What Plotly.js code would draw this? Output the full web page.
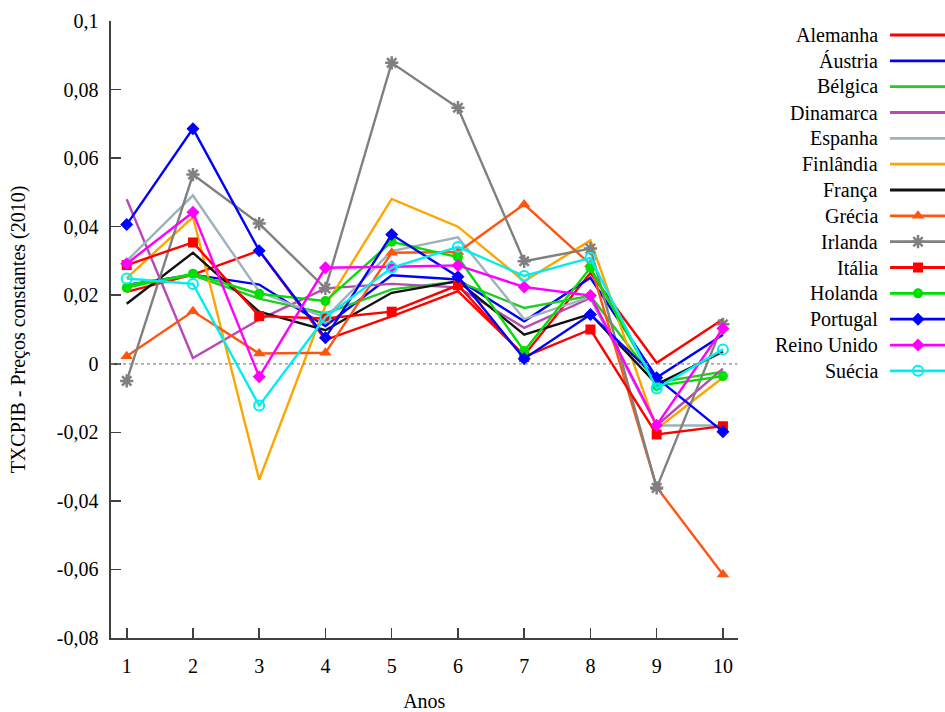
<!DOCTYPE html>
<html>
<head>
<meta charset="utf-8">
<script src="https://cdn.plot.ly/plotly-3.0.1.min.js"></script>
<style>html,body{margin:0;padding:0;background:#fff;}#chart{width:945px;height:712px;}</style>
</head>
<body>
<div id="chart"></div>
<script>
// ---- data ----
const anos = [1, 2, 3, 4, 5, 6, 7, 8, 9, 10];
const paises = ["Alemanha", "Áustria", "Bélgica", "Dinamarca", "Espanha", "Finlândia", "França",
  "Grécia", "Irlanda", "Itália", "Holanda", "Portugal", "Reino Unido", "Suécia"];
const alemanha   = [0.021, 0.026, 0.033, 0.007, 0.0138, 0.0212, 0.0025, 0.0265, 0.0003, 0.013];
const austria    = [0.023, 0.026, 0.0231, 0.011, 0.0258, 0.0246, 0.0124, 0.0251, -0.004, 0.0085];
const belgica    = [0.023, 0.0258, 0.019, 0.0147, 0.0217, 0.024, 0.0163, 0.0198, -0.0055, -0.0023];
const dinamarca  = [0.048, 0.0017, 0.0129, 0.022, 0.0233, 0.0223, 0.0105, 0.0192, -0.018, -0.0014];
const espanha    = [0.030, 0.0491, 0.021, 0.0135, 0.0329, 0.0369, 0.013, 0.0195, -0.018, -0.018];
const finlandia  = [0.025, 0.0428, -0.0338, 0.017, 0.0481, 0.040, 0.0241, 0.036, -0.019, -0.004];
const franca     = [0.0175, 0.0324, 0.0152, 0.0098, 0.0207, 0.0241, 0.0085, 0.0145, -0.006, 0.0035];
const grecia     = [0.0022, 0.0153, 0.003, 0.0032, 0.0324, 0.0326, 0.0465, 0.029, -0.036, -0.0615];
const irlanda    = [-0.005, 0.0552, 0.0409, 0.022, 0.0878, 0.0747, 0.0299, 0.0336, -0.0362, 0.0115];
const italia     = [0.0288, 0.0354, 0.0139, 0.0132, 0.0152, 0.0229, 0.002, 0.010, -0.0206, -0.0182];
const holanda    = [0.0222, 0.0263, 0.0204, 0.0183, 0.0356, 0.0311, 0.0037, 0.028, -0.0065, -0.0036];
const portugal   = [0.0406, 0.0686, 0.033, 0.0076, 0.0377, 0.0254, 0.0015, 0.0144, -0.0041, -0.0198];
const reinoUnido = [0.0292, 0.0442, -0.0038, 0.028, 0.0283, 0.0287, 0.0224, 0.0199, -0.0179, 0.0103];
const suecia     = [0.0249, 0.0233, -0.0122, 0.0136, 0.028, 0.0341, 0.0256, 0.0309, -0.0072, 0.0042];
const yTickVals  = [0.1, 0.08, 0.06, 0.04, 0.02, 0, -0.02, -0.04, -0.06, -0.08];
const yTickText  = ["0,1", "0,08", "0,06", "0,04", "0,02", "0", "-0,02", "-0,04", "-0,06", "-0,08"];
const xTitle = "Anos";
const yTitle = "TXCPIB - Preços constantes (2010)";

const series = [alemanha, austria, belgica, dinamarca, espanha, finlandia, franca,
  grecia, irlanda, italia, holanda, portugal, reinoUnido, suecia];

// ---- styles ----
const styles = [
  {color: "#ff0000"},
  {color: "#0000ff"},
  {color: "#22cc22"},
  {color: "#b848b8"},
  {color: "#9fb1ba"},
  {color: "#ffa500"},
  {color: "#111111"},
  {color: "#ff5511", symbol: "triangle-up", size: 11},
  {color: "#808080", symbol: "asterisk-open", size: 11, lw: 2.5},
  {color: "#ff0000", symbol: "square", size: 10},
  {color: "#00e000", symbol: "circle", size: 10},
  {color: "#0000ff", symbol: "diamond", size: 10},
  {color: "#ff00ff", symbol: "diamond", size: 10},
  {color: "#00eeee", symbol: "circle-open", size: 10, lw: 2}
];

const FONT = "Liberation Serif, Times New Roman, serif";
const LW = 2.4;
const traces = [];
series.forEach((vals, i) => {
  const s = styles[i];
  const t = {
    x: anos, y: vals, type: "scatter", name: paises[i],
    mode: s.symbol ? "lines+markers" : "lines",
    line: {color: s.color, width: LW},
    xaxis: "x", yaxis: "y", showlegend: false, hoverinfo: "skip"
  };
  if (s.symbol) t.marker = {symbol: s.symbol, size: s.size, color: s.color,
    line: {color: s.color, width: s.lw || 0}};
  traces.push(t);
});

// custom legend (text left, sample right)
const annotations = [];
const legLineX = [890, 960];
const legMarkX = 918;
const legTextX = 880;
paises.forEach((p, i) => {
  const s = styles[i];
  traces.push({x: legLineX, y: [i, i], type: "scatter", mode: "lines",
    line: {color: s.color, width: 2.8}, xaxis: "x2", yaxis: "y2", showlegend: false, hoverinfo: "skip"});
  if (s.symbol) traces.push({x: [legMarkX], y: [i], type: "scatter", mode: "markers",
    marker: {symbol: s.symbol, size: s.size, color: s.color, line: {color: s.color, width: s.lw || 0}},
    xaxis: "x2", yaxis: "y2", showlegend: false, hoverinfo: "skip"});
  annotations.push({x: legTextX, y: i, xref: "x2", yref: "y2", text: p, showarrow: false,
    xanchor: "right", yanchor: "middle", font: {family: FONT, size: 20, color: "#000"}});
});

const axisCol = "#404040";
const layout = {
  width: 945, height: 712,
  margin: {l: 111, r: 0, t: 21, b: 74},
  paper_bgcolor: "#ffffff", plot_bgcolor: "#ffffff",
  font: {family: FONT, size: 20, color: "#000"},
  showlegend: false,
  xaxis: {
    domain: [0, 0.7512], range: [0.763, 10.22],
    tickvals: anos, ticktext: anos.map(String),
    showgrid: false, zeroline: false, showline: true, linecolor: axisCol, linewidth: 1.6,
    ticks: "inside", ticklen: 10, tickwidth: 1.6, tickcolor: axisCol,
    ticklabelstandoff: 9,
    tickfont: {family: FONT, size: 20, color: "#000"},
    title: {text: xTitle, font: {family: FONT, size: 20, color: "#000"}, standoff: 26}
  },
  yaxis: {
    range: [-0.08, 0.1],
    tickvals: yTickVals, ticktext: yTickText,
    showgrid: false, zeroline: false, showline: true, linecolor: axisCol, linewidth: 1.6,
    ticks: "inside", ticklen: 10, tickwidth: 1.6, tickcolor: axisCol,
    ticklabelstandoff: 7,
    tickfont: {family: FONT, size: 20, color: "#000"},
    title: {text: yTitle, font: {family: FONT, size: 20, color: "#000"}, standoff: 26}
  },
  xaxis2: {domain: [0.76, 1], range: [744.8, 945], visible: false, anchor: "y2", fixedrange: true},
  yaxis2: {domain: [0, 1], range: [23.34, -0.542], visible: false, anchor: "x2", fixedrange: true},
  shapes: [{type: "line", xref: "x domain", yref: "y", x0: 0, x1: 1, y0: 0, y1: 0,
    line: {color: "#888888", width: 1.2, dash: "dot"}}],
  annotations: annotations
};

Plotly.newPlot("chart", traces, layout, {staticPlot: true, displayModeBar: false});
</script>
</body>
</html>
